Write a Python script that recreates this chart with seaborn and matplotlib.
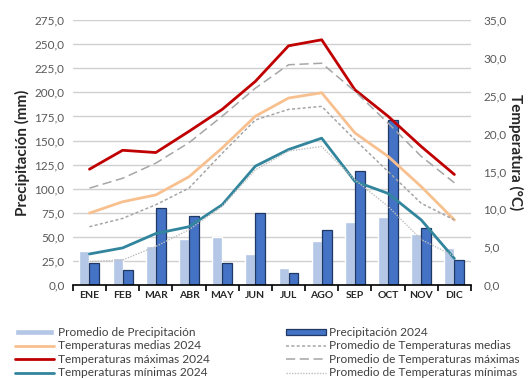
import numpy as np
import pandas as pd
import seaborn as sns
import matplotlib.pyplot as plt
from matplotlib.ticker import FuncFormatter

meses = ["ENE", "FEB", "MAR", "ABR", "MAY", "JUN", "JUL", "AGO", "SEP", "OCT", "NOV", "DIC"]

# precipitacion (mm)
prec_promedio = [35.8, 27.8, 40.3, 47.9, 49.7, 32.3, 17.7, 45.5, 64.9, 70.1, 53.1, 38.5]
prec_2024 = [22.9, 15.6, 80.2, 71.9, 22.9, 75.0, 12.2, 56.6, 118.4, 171.0, 59.4, 26.4]

# temperaturas (C)
t_med_2024 = [9.5, 11.0, 11.9, 14.3, 18.1, 22.3, 24.7, 25.4, 20.1, 17.0, 13.0, 8.6]
t_max_2024 = [15.3, 17.8, 17.5, 20.3, 23.2, 26.9, 31.6, 32.4, 25.8, 22.3, 18.3, 14.6]
t_min_2024 = [4.1, 4.9, 6.8, 7.7, 10.6, 15.7, 17.9, 19.4, 13.7, 12.1, 8.6, 3.5]
t_med_prom = [7.7, 8.8, 10.6, 12.8, 17.4, 21.8, 23.2, 23.6, 19.2, 15.0, 10.8, 8.6]
t_max_prom = [12.8, 14.1, 16.1, 18.8, 22.3, 26.0, 29.1, 29.3, 25.6, 21.4, 17.0, 13.5]
t_min_prom = [3.1, 3.3, 5.1, 7.3, 10.4, 15.2, 17.7, 18.3, 13.9, 10.4, 6.0, 3.8]

sns.set_theme(style="white")
plt.rcParams["font.family"] = ["Lato", "DejaVu Sans"]

coma = FuncFormatter(lambda v, p: f"{v:.1f}".replace(".", ","))

fig = plt.figure(figsize=(5.28, 3.79), dpi=100)
ax = fig.add_axes([0.138, 0.248, 0.754, 0.699])

df = pd.DataFrame({
    "mes": meses * 2,
    "prec": prec_promedio + prec_2024,
    "serie": ["Promedio de Precipitación"] * 12 + ["Precipitación 2024"] * 12,
})
sns.barplot(data=df, x="mes", y="prec", hue="serie", order=meses,
            palette={"Promedio de Precipitación": "#b4c7e7", "Precipitación 2024": "#4472c4"},
            width=0.6, gap=0, saturation=1, legend=False, ax=ax)
for bar in ax.containers[1]:
    bar.set_edgecolor("#1f3864")
    bar.set_linewidth(0.9)

ax.set_ylim(0, 275)
ax.set_xlim(-0.5, 11.5)
ax.set_yticks(np.arange(0, 276, 25))
ax.yaxis.set_major_formatter(coma)
ax.yaxis.grid(True, color="#d0d0d0", lw=1)
ax.set_axisbelow(True)
for s in ["top", "left", "right"]:
    ax.spines[s].set_visible(False)
ax.spines["bottom"].set_color("black")
ax.spines["bottom"].set_linewidth(1.2)
ax.set_xticks(np.arange(-0.5, 12, 1), minor=True)
ax.tick_params(axis="x", which="minor", direction="out", length=4, color="black", width=1.2, bottom=True)
ax.tick_params(axis="x", which="major", length=0, labelsize=7.5, pad=4)
ax.tick_params(axis="y", length=0, labelsize=8.5, labelcolor="#595959", pad=6)
for lab in ax.get_xticklabels():
    lab.set_fontweight("bold")
ax.set_xlabel("")
ax.set_ylabel("Precipitación (mm)", fontsize=11, fontweight="bold", labelpad=3)

ax2 = ax.twinx()
x = np.arange(12)
series = [
    ("Temperaturas medias 2024", t_med_2024, "#f8c08f", "-", 2.0),
    ("Temperaturas máximas 2024", t_max_2024, "#c00000", "-", 2.0),
    ("Temperaturas mínimas 2024", t_min_2024, "#31859c", "-", 2.0),
    ("Promedio de Temperaturas medias", t_med_prom, "#a6a6a6", (0, (2, 1.5)), 1.1),
    ("Promedio de Temperaturas máximas", t_max_prom, "#a6a6a6", (0, (6, 3)), 1.1),
    ("Promedio de Temperaturas mínimas", t_min_prom, "#bfbfbf", (0, (1, 1)), 1.0),
]
for nombre, vals, col, ls, lw in series:
    sns.lineplot(x=x, y=vals, color=col, linestyle=ls, lw=lw, ax=ax2, label=nombre, legend=False)
ax2.set_ylim(0, 35)
ax2.set_xlim(-0.5, 11.5)
ax2.set_yticks(np.arange(0, 36, 5))
ax2.yaxis.set_major_formatter(coma)
ax2.tick_params(axis="y", length=0, labelsize=8.5, labelcolor="#595959", pad=9)
for s in ["top", "left", "right", "bottom"]:
    ax2.spines[s].set_visible(False)
ax2.set_ylabel("Temperatura (°C)", fontsize=11, fontweight="bold", rotation=-90, labelpad=12)

bh = ax.containers[0][0]
bh2 = ax.containers[1][0]
lines = ax2.get_lines()
handles = [bh, lines[0], lines[1], lines[2], bh2, lines[3], lines[4], lines[5]]
labels = ["Promedio de Precipitación", "Temperaturas medias 2024", "Temperaturas máximas 2024",
          "Temperaturas mínimas 2024", "Precipitación 2024", "Promedio de Temperaturas medias",
          "Promedio de Temperaturas máximas", "Promedio de Temperaturas mínimas"]
fig.legend(handles, labels, ncol=2, loc="upper left", bbox_to_anchor=(0.028, 1 - 327 / 379),
           frameon=False, fontsize=8.6, handlelength=3.3, handleheight=0.4,
           handletextpad=0.3, labelspacing=0.2, columnspacing=6.4, borderpad=0,
           borderaxespad=0, labelcolor="#404040")

fig.savefig("out.png", dpi=100)
